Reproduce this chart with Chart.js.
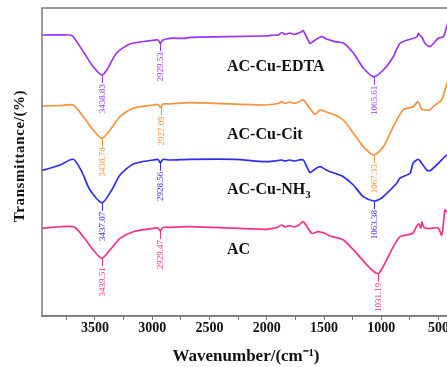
<!DOCTYPE html>
<html>
<head>
<meta charset="utf-8">
<script src="https://cdn.jsdelivr.net/npm/chart.js@4"></script>
<style>
    html, body { margin: 0; padding: 0; background: #fff; overflow: hidden; }
    #caixa { width: 470px; height: 367px; }
</style>
</head>
<body>
<div id="caixa"><canvas id="grafico"></canvas></div>
<script>
// ==========================
// DADOS
// ==========================
const seriesNames = ["AC-Cu-EDTA", "AC-Cu-Cit", "AC-Cu-NH3", "AC"];
const seriesColors = ["#9a35f2", "#f6923c", "#2d2cf0", "#f0348c"];

const edtaWn = [3962, 3953, 3718, 3689, 3601, 3515, 3438.83, 3397, 3310, 3194, 3019, 2949, 2929.53, 2906, 2844, 2713, 2670, 2015, 1928, 1900, 1869, 1840, 1800, 1760, 1720, 1700, 1681, 1622, 1590, 1520, 1480, 1448, 1404, 1331, 1244, 1157, 1065.61, 982, 895, 836, 720, 690, 677, 660, 647, 618, 575, 540, 502, 458, 429, 400];
const edtaT = [281, 281, 281, 279.3, 264.3, 249.3, 241, 246, 263, 272, 275.3, 276, 272.7, 276, 277.7, 277.7, 278.7, 280, 281, 281, 283.5, 281.5, 283, 281.5, 283, 284, 285.3, 272.7, 275, 279.3, 277, 276, 274.3, 273, 263, 248, 239.3, 246, 259.3, 272.7, 277.7, 279, 282.7, 280, 279.3, 272.7, 269.3, 273, 277.7, 279.3, 289.3, 300];

const citWn = [3962, 3800, 3689, 3601, 3515, 3438.78, 3368, 3281, 3165, 2990, 2950, 2927.09, 2906, 2844, 2670, 2015, 1928, 1900, 1869, 1840, 1800, 1760, 1720, 1681, 1579, 1535, 1480, 1448, 1404, 1331, 1244, 1157, 1067.33, 982, 895, 810, 723, 679, 650, 618, 575, 548, 487, 472, 444, 429, 400];
const citT = [210, 210.5, 211, 199.3, 186, 177.7, 186, 199.3, 207.7, 211, 211.5, 208.7, 212, 212, 213.3, 211, 212, 212.5, 214.3, 212.5, 214, 212.5, 214, 216, 201.7, 206, 204, 202.7, 201, 196, 183, 169.3, 161, 169.3, 189.3, 206, 209.3, 214.3, 207, 206, 206, 209.3, 214.3, 216, 226, 231, 245];

const nh3Wn = [3962, 3805, 3689, 3615, 3543, 3437.07, 3353, 3281, 3165, 2990, 2950, 2928.56, 2906, 2844, 2670, 2277, 2015, 1928, 1900, 1869, 1840, 1800, 1760, 1720, 1681, 1622, 1590, 1535, 1480, 1448, 1404, 1331, 1244, 1157, 1063.38, 1011, 982, 865, 836, 749, 723, 677, 647, 603, 575, 502, 444, 400];
const nh3T = [145.5, 151, 156.7, 144.3, 126, 113.3, 126, 141, 152, 156, 156.5, 153.3, 156.5, 156, 156.7, 156.7, 154.3, 155, 155.5, 156, 155, 156, 155, 156, 156, 143.3, 146, 149.3, 146, 144.3, 142.7, 139.3, 131, 119.3, 115, 117, 119.3, 132.7, 138, 142.7, 152.7, 156.7, 152.7, 146, 145.3, 152.7, 159.3, 163];

const acWn = [3962, 3953, 3689, 3601, 3514, 3439.51, 3368, 3281, 3165, 2990, 2950, 2929.47, 2906, 2844, 2670, 2015, 1928, 1900, 1869, 1840, 1800, 1760, 1720, 1681, 1607, 1550, 1480, 1448, 1404, 1331, 1215, 1098, 1031.19, 1011, 953, 895, 836, 778, 723, 690, 670, 655, 645, 630, 603, 575, 505, 472, 444, 429, 400];
const acT = [88, 87.7, 89.3, 79.3, 66, 57.7, 66, 77.7, 84.3, 87.7, 88, 85, 88.5, 88.7, 89.3, 86.7, 88, 89, 91, 89, 90.5, 89, 91, 94.3, 82.7, 84.3, 82, 80, 78.7, 76, 62.7, 47.7, 42.3, 44, 56, 69.3, 79.3, 81, 83, 90, 92, 88, 94, 89, 87.7, 87.7, 88, 81, 106, 104.3, 108];

// picos marcados em cada espectro
const edtaPeaks = [3438.83, 2929.53, 1065.61];
const citPeaks = [3438.78, 2927.09, 1067.33];
const nh3Peaks = [3437.07, 2928.56, 1063.38];
const acPeaks = [3439.51, 2929.47, 1031.19];

// eixo x
const xTicks = [3750, 3500, 3250, 3000, 2750, 2500, 2250, 2000, 1750, 1500, 1250, 1000, 750, 500];
const xTickLabels = ["", "3500", "", "3000", "", "2500", "", "2000", "", "1500", "", "1000", "", "500"];

const allWn = [edtaWn, citWn, nh3Wn, acWn];
const allT = [edtaT, citT, nh3T, acT];
const allPeaks = [edtaPeaks, citPeaks, nh3Peaks, acPeaks];

// ==========================
// PLUGINS
// ==========================
const moldura = {
    id: "moldura",
    afterDraw(chart) {
        const { ctx, chartArea: a } = chart;
        ctx.save();
        ctx.strokeStyle = "#7a7a7a";
        ctx.lineWidth = 1.5;
        ctx.strokeRect(a.left, a.top, a.right - a.left, a.bottom - a.top);
        ctx.restore();
    }
};

const rotulosPicos = {
    id: "rotulosPicos",
    afterDatasetsDraw(chart) {
        const ctx = chart.ctx;
        ctx.save();
        ctx.font = "9px 'Liberation Serif'";
        ctx.textAlign = "right";
        ctx.textBaseline = "middle";
        ctx.lineWidth = 1;
        allPeaks.forEach((peaks, i) => {
            const meta = chart.getDatasetMeta(i);
            const ds = chart.data.datasets[i];
            peaks.forEach(p => {
                const idx = ds.data.findIndex(d => d.x === p);
                const pt = meta.data[idx];
                const x = Math.round(pt.x) + 0.5;
                ctx.strokeStyle = ds.borderColor;
                ctx.fillStyle = ds.borderColor;
                ctx.beginPath();
                ctx.moveTo(x, pt.y);
                ctx.lineTo(x, pt.y + 8);
                ctx.stroke();
                ctx.save();
                ctx.translate(x, pt.y + 9);
                ctx.rotate(-Math.PI / 2);
                ctx.fillText(p.toFixed(2), 0, 0);
                ctx.restore();
            });
        });
        ctx.restore();
    }
};

const nomes = {
    id: "nomes",
    afterDraw(chart) {
        const ctx = chart.ctx;
        const sx = chart.scales.x, sy = chart.scales.y;
        const pos = [[2347, 249], [2347, 181], [2347, 126], [2347, 66]];
        ctx.save();
        ctx.fillStyle = "#111";
        ctx.textBaseline = "middle";
        seriesNames.forEach((nome, i) => {
            let x = sx.getPixelForValue(pos[i][0]);
            const y = sy.getPixelForValue(pos[i][1]);
            const m = nome.match(/^(.*?)(\d+)$/);
            const base = m ? m[1] : nome;
            ctx.font = "bold 16px 'Liberation Serif'";
            ctx.fillText(base, x, y);
            if (m) {
                x += ctx.measureText(base).width;
                ctx.font = "bold 11px 'Liberation Serif'";
                ctx.fillText(m[2], x, y + 5);
            }
        });

        // titulo do eixo y
        ctx.font = "bold 15px 'Liberation Serif'";
        if ("letterSpacing" in ctx) ctx.letterSpacing = "0.6px";
        ctx.textAlign = "center";
        ctx.translate(20, 156);
        ctx.rotate(-Math.PI / 2);
        ctx.fillText("Transmittance/(%)", 0, 0);
        ctx.restore();
    }
};

// ==========================
// GRAFICO
// ==========================
const datasets = seriesNames.map((nome, i) => ({
    label: nome,
    data: allWn[i].map((w, k) => ({ x: w, y: allT[i][k] })),
    borderColor: seriesColors[i],
    borderWidth: 1.7,
    pointRadius: 0,
    tension: 0.25,
    fill: false
}));

new Chart(document.getElementById("grafico"), {
    type: "line",
    data: { datasets },
    options: {
        responsive: true,
        maintainAspectRatio: false,
        animation: false,
        layout: { padding: { left: 42, top: 8, right: 20, bottom: 0 } },
        plugins: {
            legend: { display: false },
            tooltip: { enabled: false }
        },
        scales: {
            x: {
                type: "linear",
                reverse: true,
                min: 400,
                max: 3962,
                afterBuildTicks: s => { s.ticks = xTicks.map(v => ({ value: v })); },
                afterFit: s => { s.height = 51; },
                ticks: {
                    callback: (v, i) => xTickLabels[i],
                    autoSkip: false,
                    maxRotation: 0,
                    padding: 0,
                    color: "#111",
                    font: { family: "Liberation Serif", size: 14, weight: "bold" }
                },
                grid: { drawOnChartArea: false, tickLength: 4, color: "#777", lineWidth: 1 },
                border: { color: "#7a7a7a", width: 1.5 },
                title: {
                    display: true,
                    text: "Wavenumber/(cm⁻¹)",
                    color: "#111",
                    padding: 0,
                    font: { family: "Liberation Serif", size: 17, weight: "bold" }
                }
            },
            y: {
                display: false,
                min: 0,
                max: 308
            }
        }
    },
    plugins: [moldura, rotulosPicos, nomes]
});
</script>
</body>
</html>
